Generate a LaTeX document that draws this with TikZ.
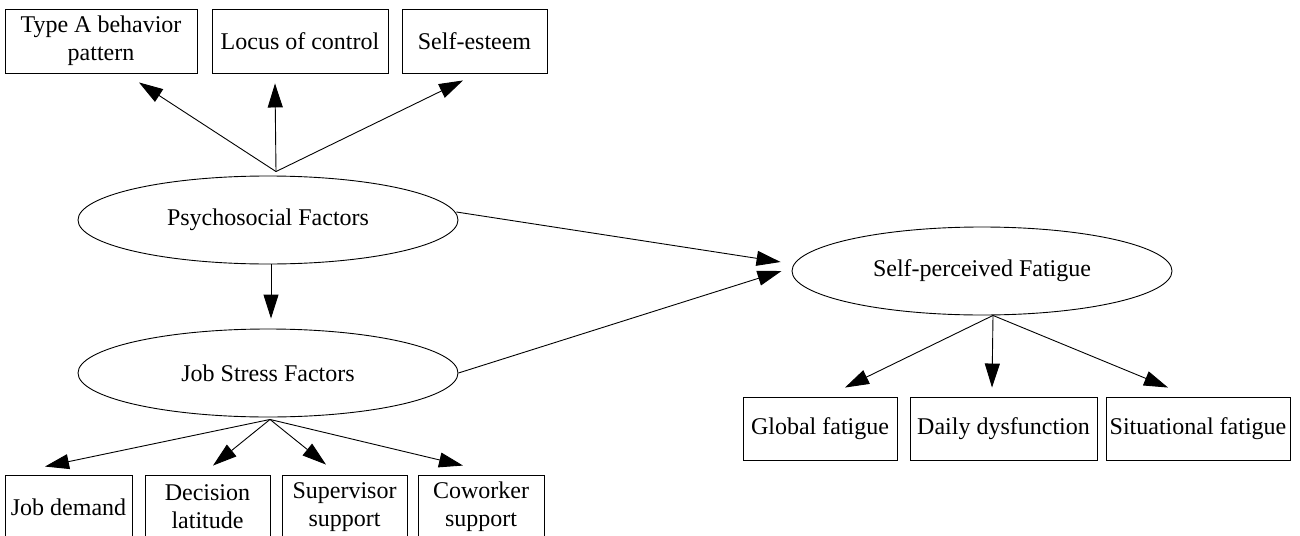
\documentclass[tikz,border=0pt]{standalone}
\usepackage{fontspec}
\setmainfont{Liberation Serif}
\usetikzlibrary{shapes.geometric,arrows.meta}
\tikzset{
  factor/.style={draw,ellipse,minimum width=380pt,minimum height=88pt,inner sep=0pt},
  item/.style={draw,rectangle,minimum height=64pt,inner sep=0pt,align=center},
  link/.style={-{Triangle[length=24pt,width=15pt]}},
}
\begin{document}
\begin{tikzpicture}[x=1pt,y=-1pt,line width=0.9pt,font=\fontsize{24}{28}\selectfont]
  \useasboundingbox (0,0) rectangle (1300,535);
  \clip (0,0) rectangle (1300,535);

  \node[factor] (psy) at (268,220) {Psychosocial Factors};
  \node[factor] (job) at (268,373) {Job Stress Factors};
  \node[factor] (fat) at (982,271) {Self-perceived Fatigue};

  \node[item,minimum width=192pt] (typeA) at (101,41) {Type A behavior\\pattern};
  \node[item,minimum width=176pt] (locus) at (300,41) {Locus of control};
  \node[item,minimum width=145pt] (esteem) at (474.5,41) {Self-esteem};

  \node[item,minimum width=127pt] (demand) at (68.5,507) {Job demand};
  \node[item,minimum width=125pt] (decision) at (207.5,507) {Decision\\latitude};
  \node[item,minimum width=125pt] (superv) at (344.5,507) {Supervisor\\support};
  \node[item,minimum width=126pt] (cowork) at (481,507) {Coworker\\support};

  \node[item,minimum width=154pt,minimum height=63pt] (global) at (820,428.5) {Global fatigue};
  \node[item,minimum width=187pt,minimum height=63pt] (daily) at (1003.5,428.5) {Daily dysfunction};
  \node[item,minimum width=184pt,minimum height=63pt] (situ) at (1198,428.5) {Situational fatigue};

  \coordinate (psyUp) at ([xshift=8pt,yshift=4pt]psy.north);
  \coordinate (psyDown) at ([xshift=3pt]psy.south);
  \coordinate (psyRight) at ([xshift=-2pt,yshift=8pt]psy.east);
  \coordinate (jobDown) at ([xshift=2pt,yshift=-2pt]job.south);
  \coordinate (fatDown) at ([xshift=11pt]fat.south);

  \draw[link] (psyUp) -- ([xshift=38pt,yshift=-9pt]typeA.south);
  \draw[link] (psyUp) -- ([xshift=-25pt,yshift=-10pt]locus.south);
  \draw[link] (psyUp) -- ([xshift=-11.5pt,yshift=-7pt]esteem.south);

  \draw[link] (psyDown) -- ([xshift=3pt,yshift=10pt]job.north);
  \draw[link] (psyRight) -- ([xshift=-11pt,yshift=9pt]fat.west);
  \draw[link] (job.east) -- ([xshift=-10pt]fat.west);

  \draw[link] (jobDown) -- ([xshift=-23.5pt,yshift=8pt]demand.north);
  \draw[link] (jobDown) -- ([xshift=5.5pt,yshift=9pt]decision.north);
  \draw[link] (jobDown) -- ([xshift=-18.5pt,yshift=10pt]superv.north);
  \draw[link] (jobDown) -- ([xshift=-18pt,yshift=9pt]cowork.north);

  \draw[link] (fatDown) -- ([xshift=25pt,yshift=9pt]global.north);
  \draw[link] (fatDown) -- ([xshift=-11.5pt,yshift=9pt]daily.north);
  \draw[link] (fatDown) -- ([xshift=-30pt,yshift=9pt]situ.north);
\end{tikzpicture}
\end{document}
